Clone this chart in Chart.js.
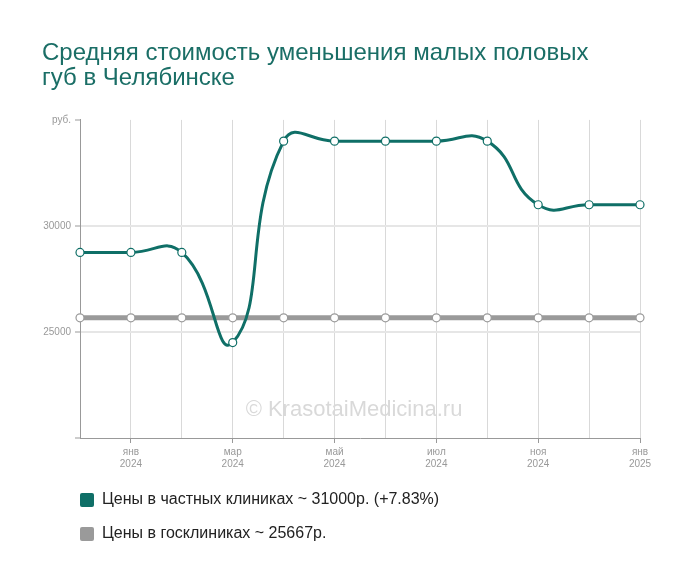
<!DOCTYPE html>
<html>
<head>
<meta charset="utf-8">
<script src="https://cdn.jsdelivr.net/npm/chart.js@4"></script>
<style>
  html, body { margin: 0; padding: 0; background: #fff; }
  #wrap { width: 700px; height: 583px; position: relative; }
</style>
</head>
<body>
<div id="wrap"><canvas id="grafico"></canvas></div>
<script>
// данные графика
const monthLabels = ['', ['янв', '2024'], '', ['мар', '2024'], '', ['май', '2024'], '', ['июл', '2024'], '', ['ноя', '2024'], '', ['янв', '2025']];
const privatePrices = [28750, 28750, 28750, 24500, 34000, 34000, 34000, 34000, 34000, 31000, 31000, 31000];
const govPrices = [25667, 25667, 25667, 25667, 25667, 25667, 25667, 25667, 25667, 25667, 25667, 25667];
const seriesNames = ['Цены в частных клиниках ~ 31000р. (+7.83%)', 'Цены в госклиниках ~ 25667р.'];
const yTickLabels = { 20000: '', 25000: '25000', 30000: '30000', 35000: 'руб.' };

const teal = '#0f6f67';
const gray = '#9a9a9a';
const fontFamily = "'Liberation Sans', Arial, sans-serif";

const watermark = {
    id: 'watermark',
    beforeDraw(chart) {
        const ctx = chart.ctx;
        ctx.save();
        ctx.font = '22px ' + fontFamily;
        ctx.fillStyle = '#d9d9d9';
        ctx.textAlign = 'center';
        ctx.textBaseline = 'middle';
        ctx.fillText('© KrasotaiMedicina.ru', 354, 410);
        ctx.restore();
    }
};

// сдвигаем легенду к левому краю области графика
const shiftLegend = {
    id: 'shiftLegend',
    afterLayout(chart) {
        const pad = chart.legend.options.labels.padding;
        chart.legend.left -= pad;
        chart.legend.right -= pad;
    }
};

const ctx = document.getElementById('grafico').getContext('2d');

new Chart(ctx, {
    type: 'line',
    data: {
        labels: monthLabels,
        datasets: [{
            label: seriesNames[0],
            data: privatePrices,
            borderColor: teal,
            backgroundColor: teal,
            borderWidth: 3,
            tension: 0.5,
            pointRadius: 4,
            pointBorderWidth: 1.2,
            pointBackgroundColor: '#fff',
            pointBorderColor: teal
        }, {
            label: seriesNames[1],
            data: govPrices,
            borderColor: gray,
            backgroundColor: gray,
            borderWidth: 5,
            tension: 0.5,
            pointRadius: 4,
            pointBorderWidth: 1.2,
            pointBackgroundColor: '#fff',
            pointBorderColor: gray
        }]
    },
    options: {
        responsive: true,
        maintainAspectRatio: false,
        animation: false,
        layout: {
            padding: { left: 42, right: 60, top: 0, bottom: 31 }
        },
        scales: {
            x: {
                offset: false,
                grid: {
                    color: '#d9d9d9',
                    lineWidth: 1,
                    tickLength: 5,
                    tickColor: (c) => (c.index % 2 === 1 ? '#999' : 'rgba(0,0,0,0)')
                },
                border: { color: '#999', width: 1 },
                ticks: {
                    autoSkip: false,
                    maxRotation: 0,
                    padding: 3,
                    color: '#999',
                    font: { family: fontFamily, size: 10, lineHeight: 1.2 }
                },
                afterFit: (scale) => { scale.height = 36; }
            },
            y: {
                min: 20000,
                max: 35000,
                grid: {
                    color: (c) => (c.tick && (c.tick.value === 25000 || c.tick.value === 30000) ? '#e6e6e6' : 'rgba(0,0,0,0)'),
                    lineWidth: 2,
                    tickLength: 5,
                    tickColor: '#999',
                    tickWidth: 1
                },
                border: { color: '#999', width: 1 },
                ticks: {
                    stepSize: 5000,
                    padding: 4,
                    color: '#999',
                    font: { family: fontFamily, size: 10 },
                    callback: (v) => yTickLabels[v]
                },
                afterFit: (scale) => { scale.width = 38; }
            }
        },
        plugins: {
            title: {
                display: true,
                align: 'start',
                text: ['Средняя стоимость уменьшения малых половых', 'губ в Челябинске'],
                color: '#1a6e66',
                font: { family: fontFamily, size: 24, weight: 'normal', lineHeight: 1.04 },
                padding: { top: 41, bottom: 29 }
            },
            legend: {
                position: 'bottom',
                align: 'start',
                fullSize: false,
                labels: {
                    boxWidth: 14,
                    boxHeight: 14,
                    padding: 18,
                    color: '#222',
                    font: { family: fontFamily, size: 16 },
                    generateLabels: (chart) => {
                        const items = Chart.defaults.plugins.legend.labels.generateLabels(chart);
                        items.forEach((it) => {
                            it.lineWidth = 0;
                            it.borderRadius = 2;
                        });
                        return items;
                    }
                }
            },
            tooltip: { enabled: false }
        }
    },
    plugins: [watermark, shiftLegend]
});
</script>
</body>
</html>
